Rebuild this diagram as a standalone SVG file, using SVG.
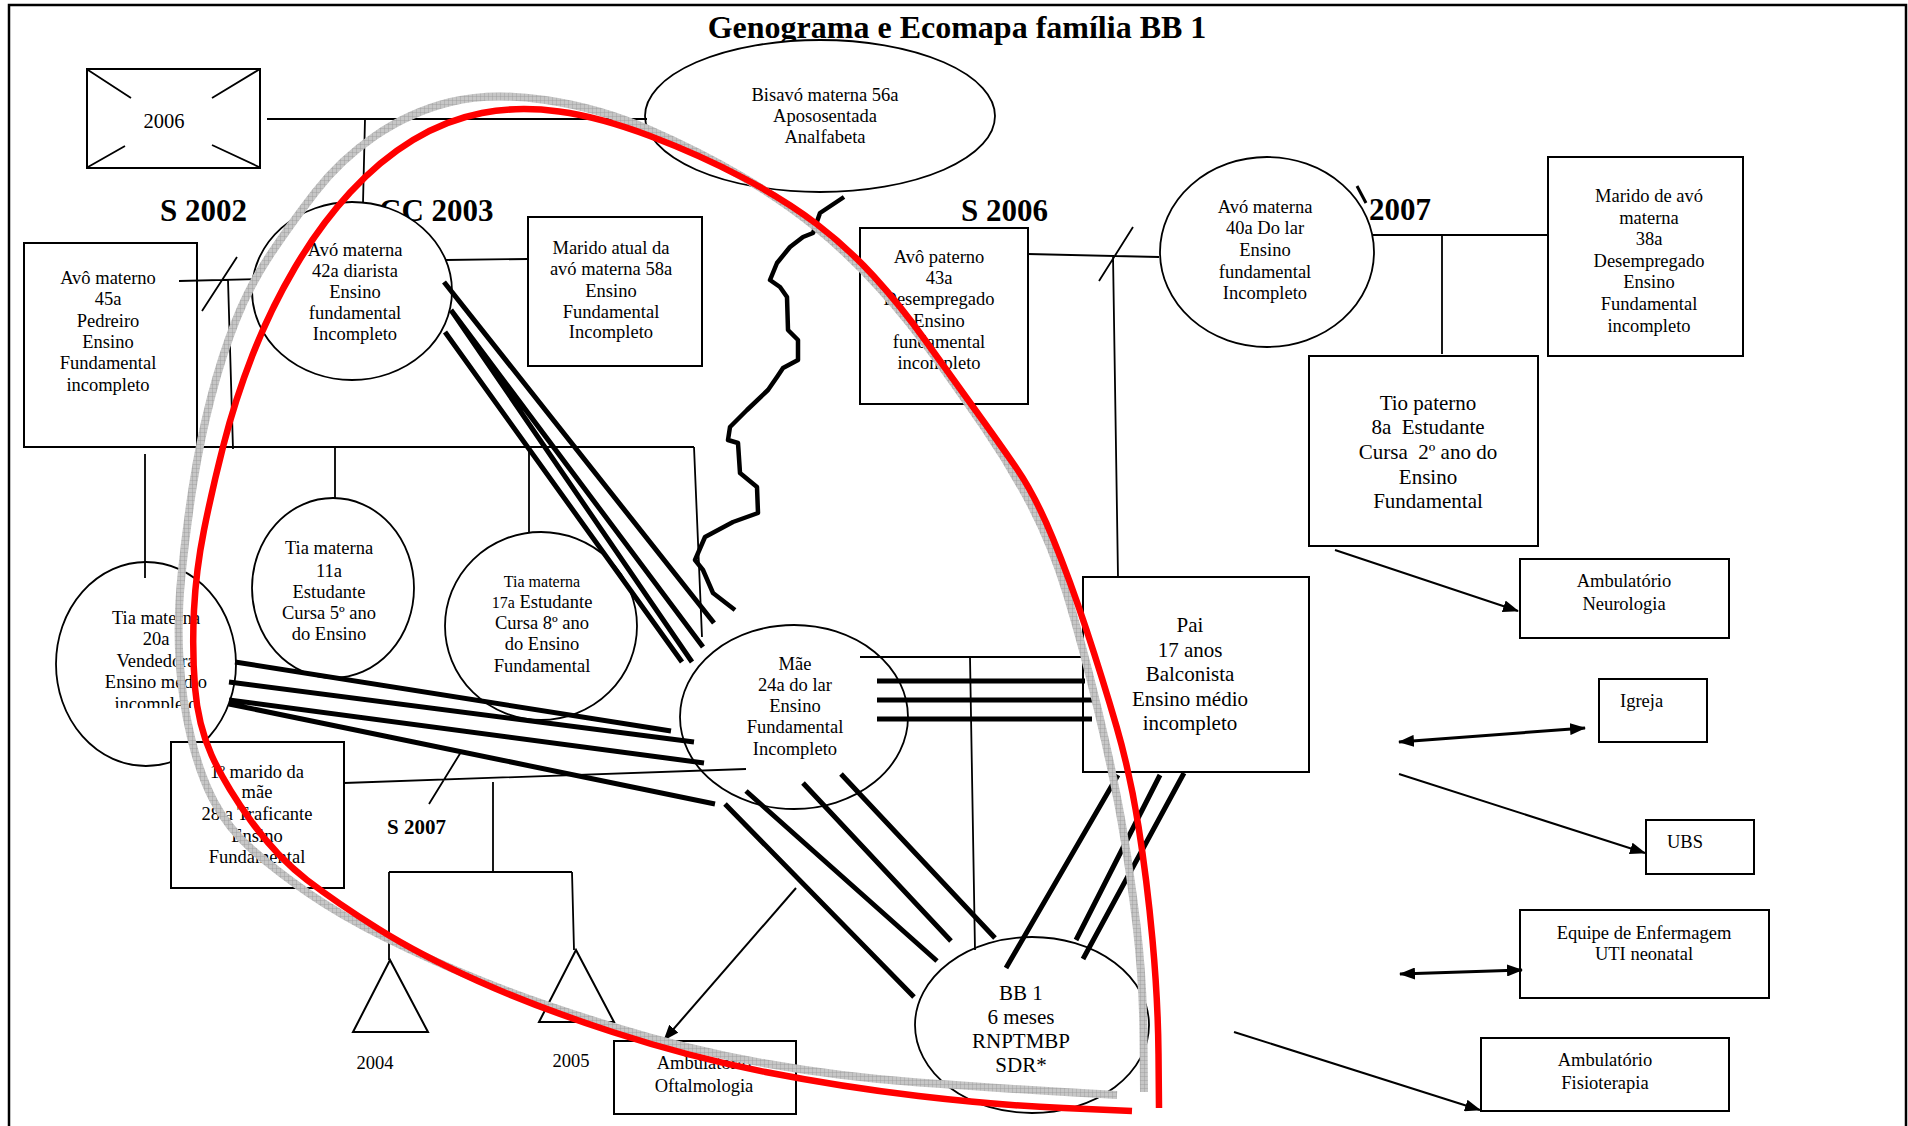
<svg xmlns="http://www.w3.org/2000/svg" width="1908" height="1126" viewBox="0 0 1908 1126">
<defs>
<style>
.box{fill:#fff;stroke:#000;stroke-width:2}
.ell{fill:#fff;stroke:#000;stroke-width:1.8}
.t{font-family:"Liberation Serif","Times New Roman",serif;font-size:18.5px;fill:#000;text-anchor:middle}
.tl{text-anchor:start}
.big{font-size:21px}
.sm{font-size:16px}
.lbl{font-family:"Liberation Serif","Times New Roman",serif;font-weight:bold;font-size:31px;fill:#000}
.thin{stroke:#000;stroke-width:1.8;fill:none}
.thick{stroke:#000;stroke-width:5;fill:none}
.arr{stroke:#000;stroke-width:2;fill:none;marker-end:url(#ah)}
.dbl{stroke:#000;stroke-width:3;fill:none;marker-start:url(#ah);marker-end:url(#ah)}
</style>
<marker id="ah" viewBox="0 0 16 12" refX="15" refY="6" markerWidth="16" markerHeight="12" markerUnits="userSpaceOnUse" orient="auto-start-reverse">
<path d="M0,0 L16,6 L0,12 z" fill="#000"/>
</marker>
<pattern id="hatch" width="4" height="4" patternUnits="userSpaceOnUse">
<rect width="4" height="4" fill="#c6c6c6"/>
<path d="M0,0H4M0,0V4" stroke="#999" stroke-width="0.8"/>
</pattern>
<clipPath id="clipTia20"><rect x="56" y="560" width="181" height="148"/></clipPath>
</defs>
<rect width="1908" height="1126" fill="#fff"/>
<path d="M9,1126 V5 H1906 V1126" fill="none" stroke="#000" stroke-width="2.5"/>
<text class="lbl" x="957" y="38" text-anchor="middle" style="font-size:32px">Genograma e Ecomapa família BB 1</text>
<text class="lbl" x="160" y="221">S 2002</text>
<text class="lbl" x="379" y="221">CC 2003</text>
<text class="lbl" x="961" y="221">S 2006</text>
<text class="lbl" x="1369" y="220">2007</text>
<line x1="1357" y1="186" x2="1366" y2="203" stroke="#000" stroke-width="3"/>
<text class="lbl" x="387" y="834" style="font-size:21px">S 2007</text>

<g id="n2006">
<rect class="box" x="87" y="69" width="173" height="99"/>
<path class="thin" d="M88,70 L131,98 M260,69 L212,98 M88,167 L125,146 M259,167 L212,145"/>
<text class="t" x="164" y="128" style="font-size:20.5px">2006</text>
</g>
<g id="bisavo">
<ellipse class="ell" cx="820" cy="116" rx="175" ry="76"/>
<text class="t" x="825"><tspan x="825" y="101">Bisavó materna 56a</tspan><tspan x="825" y="122">Apososentada</tspan><tspan x="825" y="143">Analfabeta</tspan></text>
</g>
<g id="avoMaterno">
<rect class="box" x="24" y="243" width="173" height="204"/>
<text class="t"><tspan x="108" y="284">Avô materno</tspan><tspan x="108" y="305">45a</tspan><tspan x="108" y="327">Pedreiro</tspan><tspan x="108" y="348">Ensino</tspan><tspan x="108" y="369">Fundamental</tspan><tspan x="108" y="391">incompleto</tspan></text>
</g>
<g id="avoMaterna42">
<ellipse class="ell" cx="352" cy="291" rx="100" ry="89"/>
<text class="t"><tspan x="355" y="256">Avó materna</tspan><tspan x="355" y="277">42a diarista</tspan><tspan x="355" y="298">Ensino</tspan><tspan x="355" y="319">fundamental</tspan><tspan x="355" y="340">Incompleto</tspan></text>
</g>
<g id="maridoAtual">
<rect class="box" x="528" y="217" width="174" height="149"/>
<text class="t"><tspan x="611" y="254">Marido atual da</tspan><tspan x="611" y="275">avó materna 58a</tspan><tspan x="611" y="297">Ensino</tspan><tspan x="611" y="318">Fundamental</tspan><tspan x="611" y="338">Incompleto</tspan></text>
</g>
<g id="avoPaterno">
<rect class="box" x="860" y="228" width="168" height="176"/>
<text class="t"><tspan x="939" y="263">Avô paterno</tspan><tspan x="939" y="284">43a</tspan><tspan x="939" y="305">Desempregado</tspan><tspan x="939" y="327">Ensino</tspan><tspan x="939" y="348">fundamental</tspan><tspan x="939" y="369">incompleto</tspan></text>
</g>
<g id="avoMaterna40">
<ellipse class="ell" cx="1267" cy="252" rx="107" ry="95"/>
<text class="t"><tspan x="1265" y="213">Avó materna</tspan><tspan x="1265" y="234">40a Do lar</tspan><tspan x="1265" y="256">Ensino</tspan><tspan x="1265" y="278">fundamental</tspan><tspan x="1265" y="299">Incompleto</tspan></text>
</g>
<g id="maridoAvo">
<rect class="box" x="1548" y="157" width="195" height="199"/>
<text class="t"><tspan x="1649" y="202">Marido de avó</tspan><tspan x="1649" y="224">materna</tspan><tspan x="1649" y="245">38a</tspan><tspan x="1649" y="267">Desempregado</tspan><tspan x="1649" y="288">Ensino</tspan><tspan x="1649" y="310">Fundamental</tspan><tspan x="1649" y="332">incompleto</tspan></text>
</g>
<g id="tioPaterno">
<rect class="box" x="1309" y="356" width="229" height="190"/>
<text class="t big" xml:space="preserve"><tspan x="1428" y="410">Tio paterno</tspan><tspan x="1428" y="434">8a  Estudante</tspan><tspan x="1428" y="459">Cursa  2º ano do</tspan><tspan x="1428" y="484">Ensino</tspan><tspan x="1428" y="508">Fundamental</tspan></text>
</g>
<g id="neuro">
<rect class="box" x="1520" y="559" width="209" height="79"/>
<text class="t"><tspan x="1624" y="587">Ambulatório</tspan><tspan x="1624" y="610">Neurologia</tspan></text>
</g>
<g id="igreja">
<rect class="box" x="1599" y="679" width="108" height="63"/>
<text class="t tl" x="1620" y="707">Igreja</text>
</g>
<g id="ubs">
<rect class="box" x="1646" y="820" width="108" height="54"/>
<text class="t tl" x="1667" y="848">UBS</text>
</g>
<g id="equipe">
<rect class="box" x="1520" y="910" width="249" height="88"/>
<text class="t"><tspan x="1644" y="939">Equipe de Enfermagem</tspan><tspan x="1644" y="960">UTI neonatal</tspan></text>
</g>
<g id="fisio">
<rect class="box" x="1481" y="1038" width="248" height="73"/>
<text class="t"><tspan x="1605" y="1066">Ambulatório</tspan><tspan x="1605" y="1089">Fisioterapia</tspan></text>
</g>
<g id="pai">
<rect class="box" x="1083" y="577" width="226" height="195"/>
<text class="t big"><tspan x="1190" y="632">Pai</tspan><tspan x="1190" y="657">17 anos</tspan><tspan x="1190" y="681">Balconista</tspan><tspan x="1190" y="706">Ensino médio</tspan><tspan x="1190" y="730">incompleto</tspan></text>
</g>
<g id="mae">
<ellipse class="ell" cx="794" cy="717" rx="114" ry="92"/>
<text class="t"><tspan x="795" y="670">Mãe</tspan><tspan x="795" y="691">24a do lar</tspan><tspan x="795" y="712">Ensino</tspan><tspan x="795" y="733">Fundamental</tspan><tspan x="795" y="755">Incompleto</tspan></text>
</g>
<g id="tia20">
<ellipse class="ell" cx="146" cy="664" rx="90" ry="102"/>
<text class="t" clip-path="url(#clipTia20)"><tspan x="156" y="624">Tia materna</tspan><tspan x="156" y="645">20a</tspan><tspan x="156" y="667">Vendedora</tspan><tspan x="156" y="688">Ensino médio</tspan><tspan x="156" y="710">incompleto</tspan></text>
</g>
<g id="tia11">
<ellipse class="ell" cx="333" cy="588" rx="81" ry="90"/>
<text class="t"><tspan x="329" y="554">Tia materna</tspan><tspan x="329" y="577">11a</tspan><tspan x="329" y="598">Estudante</tspan><tspan x="329" y="619">Cursa 5º ano</tspan><tspan x="329" y="640">do Ensino</tspan></text>
</g>
<g id="tia17">
<ellipse class="ell" cx="541" cy="626" rx="96" ry="94"/>
<text class="t"><tspan x="542" y="587" class="sm">Tia materna</tspan><tspan x="542" y="608"><tspan class="sm">17a</tspan> Estudante</tspan><tspan x="542" y="629">Cursa 8º ano</tspan><tspan x="542" y="650">do Ensino</tspan><tspan x="542" y="672">Fundamental</tspan></text>
</g>
<g id="marido1">
<rect class="box" x="171" y="742" width="173" height="146"/>
<text class="t"><tspan x="257" y="778">1º marido da</tspan><tspan x="257" y="798">mãe</tspan><tspan x="257" y="820">28 a Traficante</tspan><tspan x="257" y="842">Ensino</tspan><tspan x="257" y="863">Fundamental</tspan></text>
</g>
<g id="filho2004">
<polygon points="390,960 353,1032 428,1032" fill="#fff" stroke="#000" stroke-width="2"/>
<text class="t" x="375" y="1069">2004</text>
</g>
<g id="filho2005">
<polygon points="576,950 539,1022 614,1022" fill="#fff" stroke="#000" stroke-width="2"/>
<text class="t" x="571" y="1067">2005</text>
</g>
<g id="oftalmo">
<rect class="box" x="614" y="1041" width="182" height="73"/>
<text class="t"><tspan x="704" y="1069">Ambulatório</tspan><tspan x="704" y="1092">Oftalmologia</tspan></text>
</g>
<g id="bb1">
<ellipse class="ell" cx="1032" cy="1025" rx="117" ry="88"/>
<text class="t big"><tspan x="1021" y="1000">BB 1</tspan><tspan x="1021" y="1024">6 meses</tspan><tspan x="1021" y="1048">RNPTMBP</tspan><tspan x="1021" y="1072">SDR*</tspan></text>
</g>

<g id="connectors">
<path class="thin" d="M267,119 H647 M365,119 L363,203"/>
<path class="thin" d="M179,281 L259,279 M237,257 L202,311 M228,280 L233,449"/>
<path class="thin" d="M446,260 L528,259"/>
<path class="thin" d="M197,447 H694 M145,454 V578 M335,447 V498 M529,447 V532 M694,447 L702,637"/>
<path class="thin" d="M1028,254 L1159,257 M1133,227 L1099,281 M1113,255 L1118,577"/>
<path class="thin" d="M1373,235 H1548 M1442,235 V354"/>
<path class="thin" d="M860,657 H1083 M970,657 L975,950"/>
<path class="thin" d="M344,783 L746,769 M461,752 L429,804 M493,782 V872 M389,872 H572 M389,872 V960 M572,872 L574,950"/>
<path class="thick" d="M444,282 L714,623 M451,310 L703,647 M451,310 L692,662 M445,332 L682,662"/>
<path class="thick" d="M235,662 L671,731 M229,682 L694,742 M229,700 L704,763 M229,704 L715,804"/>
<path class="thick" d="M877,681 H1085 M877,700 H1099 M877,719 H1092"/>
<path class="thick" d="M1118,775 L1006,968 M1160,775 L1076,940 M1184,773 L1083,959"/>
<path class="thick" d="M725,804 L914,997 M746,791 L937,961 M803,783 L951,941 M841,774 L995,938"/>
<path d="M844,197 L820,213 L813,233 L803,237 L790,247 L777,263 L770,280 L780,287 L787,297 L788,330 L798,340 L798,360 L783,368 L777,377 L768,390 L747,410 L730,427 L728,440 L738,443 L740,473 L757,487 L758,513 L733,522 L705,537 L695,560 L703,570 L713,593 L735,610" fill="none" stroke="#000" stroke-width="4.5" stroke-linejoin="round"/>
<line class="arr" x1="1335" y1="550" x2="1518" y2="611"/>
<line class="dbl" x1="1399" y1="742" x2="1585" y2="728"/>
<line class="arr" x1="1399" y1="774" x2="1645" y2="853"/>
<line class="dbl" x1="1400" y1="974" x2="1522" y2="970"/>
<line class="arr" x1="1234" y1="1032" x2="1480" y2="1110"/>
<line class="arr" stroke-width="1.5" x1="796" y1="888" x2="664" y2="1040"/>
</g>

<g id="boundaries">
<path d="M1144,1092 L1143.5,1036 Q1143,980 1136.5,925 Q1130,870 1121.5,821.5 Q1113,773 1098,710 Q1083,647 1067.5,596 Q1052,545 1031,505 Q1010,465 985,428.5 Q960,392 935,357 Q910,322 880,288.5 Q850,255 816,227.5 Q782,200 741,176 Q700,152 650,130 Q600,108 545.5,100 Q491,92 450.5,102 Q410,112 375,136 Q340,160 315,192.5 Q290,225 270,255 Q250,285 236,320 Q222,355 211,397.5 Q200,440 193,485 Q186,530 181.5,575 Q177,620 179.5,660 Q182,700 191,737.5 Q200,775 214,801.5 Q228,828 251.5,849 Q275,870 307.5,892.5 Q340,915 385,937.5 Q430,960 483,981.5 Q536,1003 612.5,1026.5 Q689,1050 765.5,1063.5 Q842,1077 918.5,1082.5 Q995,1088 1056,1091.5 L1117,1095" fill="none" stroke="url(#hatch)" stroke-width="8" stroke-linejoin="round"/>
<path d="M1159,1108 L1158.5,1054 Q1158,1000 1152.5,940 Q1147,880 1138.5,826.5 Q1130,773 1116.5,726.5 Q1103,680 1086.5,630 Q1070,580 1052.5,537.5 Q1035,495 1016,467.5 Q997,440 973.5,407.5 Q950,375 925,340 Q900,305 873.5,276 Q847,247 816,223.5 Q785,200 742.5,177.5 Q700,155 650,136 Q600,117 559,111.5 Q518,106 482,113 Q446,120 413,140 Q380,160 350,192.5 Q320,225 295,267.5 Q270,310 252.5,355 Q235,400 223.5,445 Q212,490 204,530 Q196,570 194,610 Q192,650 195,687.5 Q198,725 211.5,755 Q225,785 251,821 Q277,857 307,880 Q337,903 378.5,929 Q420,955 478,981 Q536,1007 612.5,1032 Q689,1057 765.5,1072 Q842,1087 918.5,1096 Q995,1105 1063.5,1108 L1132,1111" fill="none" stroke="#ff0000" stroke-width="6.5" stroke-linejoin="round"/>
</g>
</svg>
